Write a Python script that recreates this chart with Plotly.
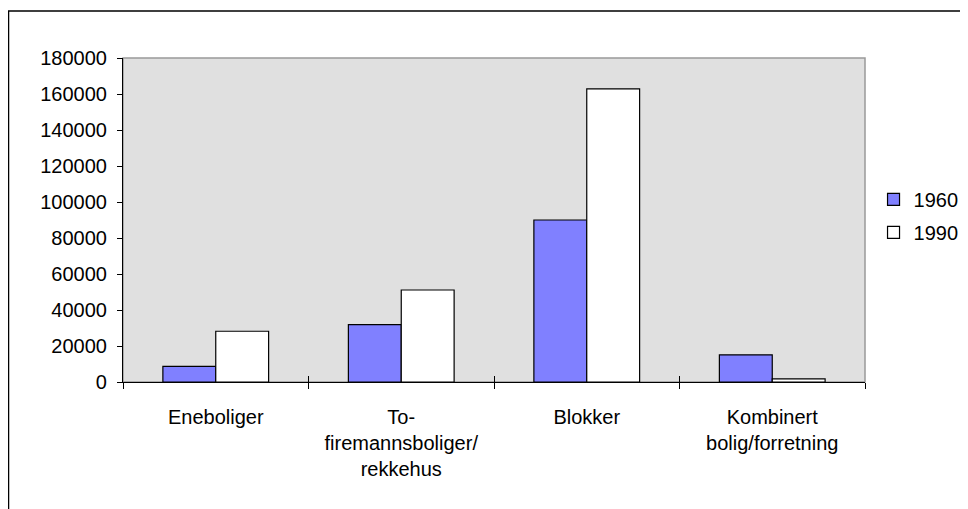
import plotly.graph_objects as go

categories = ["Eneboliger", "To-<br>firemannsboliger/<br>rekkehus", "Blokker", "Kombinert<br>bolig/forretning"]
values_1960 = [8700, 31900, 90000, 15100]
values_1990 = [28200, 51100, 162800, 1700]
y_ticks = [0, 20000, 40000, 60000, 80000, 100000, 120000, 140000, 160000, 180000]

FONT = "Liberation Sans, Arial, sans-serif"

fig = go.Figure()
fig.add_trace(go.Bar(name="1960", x=categories, y=values_1960, legendgroup="a",
                     marker=dict(color="#8080FF", line=dict(color="#000000", width=1.2))))
fig.add_trace(go.Bar(name="1990", x=categories, y=values_1990, legendgroup="b",
                     marker=dict(color="#FFFFFF", line=dict(color="#000000", width=1.2))))
# invisible trace on overlay axis to draw the inner part of crossing ticks
fig.add_trace(go.Scatter(x=categories, y=[0]*len(categories), xaxis="x2", mode="markers",
                         marker=dict(opacity=0), showlegend=False, hoverinfo="skip"))

fig.update_layout(
    width=960, height=501,
    margin=dict(l=115, r=103, t=50, b=127, autoexpand=False),
    paper_bgcolor="white",
    plot_bgcolor="#E0E0E0",
    font=dict(family=FONT, size=20, color="#000000"),
    barmode="group",
    bargap=0.43,
    bargroupgap=0,
    showlegend=True,
    legend=dict(x=1.0115, y=0.624, xanchor="left", yanchor="top",
                font=dict(size=20), bgcolor="rgba(0,0,0,0)",
                itemwidth=30, tracegroupgap=4),
    xaxis=dict(type="category", categoryarray=categories, showgrid=False,
               showline=True, linecolor="#000000", linewidth=1.2, automargin=False,
               ticks="outside", tickson="boundaries", ticklen=6, tickcolor="#000000",
               tickwidth=1.2, tickfont=dict(size=20), ticklabelstandoff=17),
    xaxis2=dict(type="category", categoryarray=categories, overlaying="x", anchor="y",
                matches="x", showgrid=False, showline=False, showticklabels=False,
                ticks="inside", tickson="boundaries", ticklen=6, tickcolor="#000000",
                tickwidth=1.2, automargin=False),
    yaxis=dict(range=[0, 180000], tickvals=y_ticks, ticktext=[str(v) for v in y_ticks],
               showgrid=False, showline=True, linecolor="#000000", linewidth=1.2,
               ticks="outside", ticklen=5, tickcolor="#000000", tickwidth=1.2,
               tickfont=dict(size=20), zeroline=False, automargin=False,
               ticklabelstandoff=6),
    shapes=[
        dict(type="rect", xref="paper", yref="paper", x0=0, x1=1, y0=0, y1=1,
             line=dict(color="#999999", width=1.5), layer="below"),
        dict(type="rect", xref="paper", yref="paper", x0=-0.1543, x1=1.145,
             y0=-0.42, y1=1.145, line=dict(color="#000000", width=1.5),
             fillcolor="rgba(0,0,0,0)", layer="below"),
    ],
)

fig.write_html("out.html")
